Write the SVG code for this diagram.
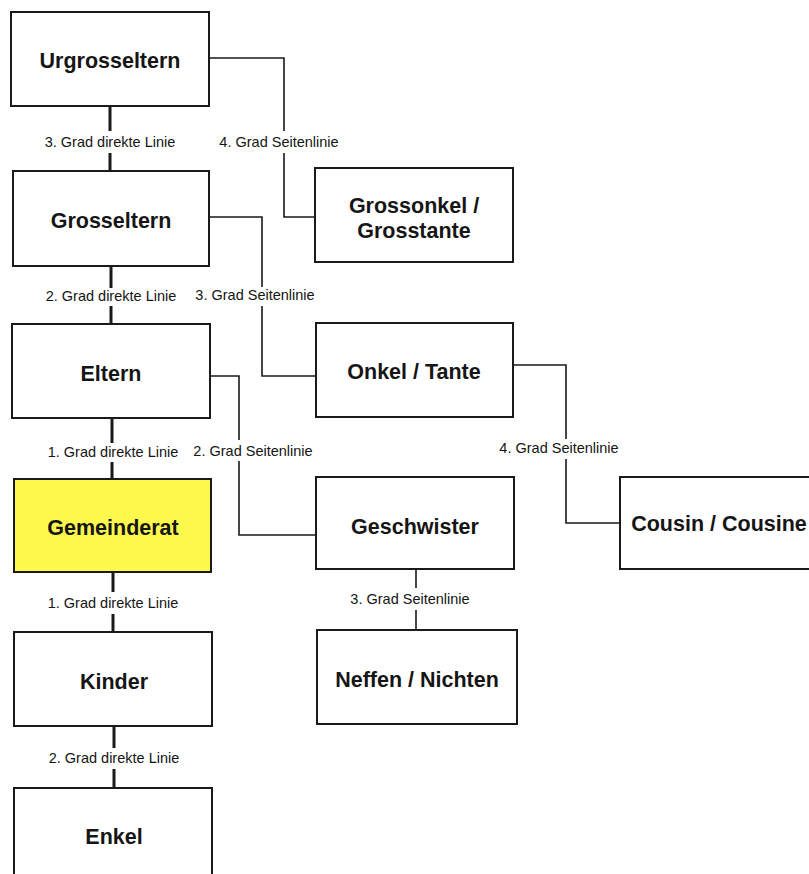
<svg xmlns="http://www.w3.org/2000/svg" width="809" height="874" viewBox="0 0 809 874">
<style>
.box{fill:#fff;stroke:#1a1a1a;stroke-width:2}
.hl{fill:#fdf84c}
.nt{font-family:"Liberation Sans",Arial,sans-serif;font-weight:bold;font-size:21.5px;fill:#151515;text-anchor:middle}
.lb{font-family:"Liberation Sans",Arial,sans-serif;font-size:14.5px;fill:#151515;text-anchor:middle}
.main{stroke:#1a1a1a;stroke-width:3;fill:none}
.side{stroke:#1a1a1a;stroke-width:1.6;fill:none}
</style>
<rect width="809" height="874" fill="#fff"/>
<g id="connectors">
<path class="main" d="M110 106V131M110 153V171"/>
<path class="main" d="M111 266V288M111 306V324"/>
<path class="main" d="M112 418V443M112 462V479"/>
<path class="main" d="M113 572V592M113 614V632"/>
<path class="main" d="M114 726V748M114 769V788"/>
<path class="side" d="M209 58H284V131M284 153V217H315"/>
<path class="side" d="M209 217H262V287M262 306V376H316"/>
<path class="side" d="M210 376H239V440M239 461V535H316"/>
<path class="side" d="M513 365H566V439M566 459V523H620"/>
<path class="side" d="M416 569V588M416 610V630"/>
<text class="lb" x="110" y="147">3. Grad direkte Linie</text>
<text class="lb" x="279" y="147">4. Grad Seitenlinie</text>
<text class="lb" x="111" y="301">2. Grad direkte Linie</text>
<text class="lb" x="255" y="300">3. Grad Seitenlinie</text>
<text class="lb" x="113" y="457">1. Grad direkte Linie</text>
<text class="lb" x="253" y="456">2. Grad Seitenlinie</text>
<text class="lb" x="559" y="453">4. Grad Seitenlinie</text>
<text class="lb" x="113" y="608">1. Grad direkte Linie</text>
<text class="lb" x="410" y="604">3. Grad Seitenlinie</text>
<text class="lb" x="114" y="763">2. Grad direkte Linie</text>
</g>
<g id="urgrosseltern"><rect class="box" x="11" y="12" width="198" height="94"/><text class="nt" x="110" y="68">Urgrosseltern</text></g>
<g id="grosseltern"><rect class="box" x="13" y="171" width="196" height="95"/><text class="nt" x="111" y="228">Grosseltern</text></g>
<g id="grossonkel"><rect class="box" x="315" y="168" width="198" height="94"/><text class="nt" x="414" y="213">Grossonkel /</text><text class="nt" x="414" y="238">Grosstante</text></g>
<g id="eltern"><rect class="box" x="12" y="324" width="198" height="94"/><text class="nt" x="111" y="381">Eltern</text></g>
<g id="onkel"><rect class="box" x="316" y="323" width="197" height="94"/><text class="nt" x="414" y="379">Onkel / Tante</text></g>
<g id="gemeinderat"><rect class="box hl" x="14" y="479" width="197" height="93"/><text class="nt" x="113" y="535">Gemeinderat</text></g>
<g id="geschwister"><rect class="box" x="316" y="477" width="198" height="92"/><text class="nt" x="415" y="534">Geschwister</text></g>
<g id="cousin"><rect class="box" x="620" y="477" width="200" height="92"/><text class="nt" x="719" y="531">Cousin / Cousine</text></g>
<g id="kinder"><rect class="box" x="14" y="632" width="198" height="94"/><text class="nt" x="114" y="689">Kinder</text></g>
<g id="neffen"><rect class="box" x="317" y="630" width="200" height="94"/><text class="nt" x="417" y="687">Neffen / Nichten</text></g>
<g id="enkel"><rect class="box" x="14" y="788" width="198" height="100"/><text class="nt" x="114" y="844">Enkel</text></g>
</svg>
